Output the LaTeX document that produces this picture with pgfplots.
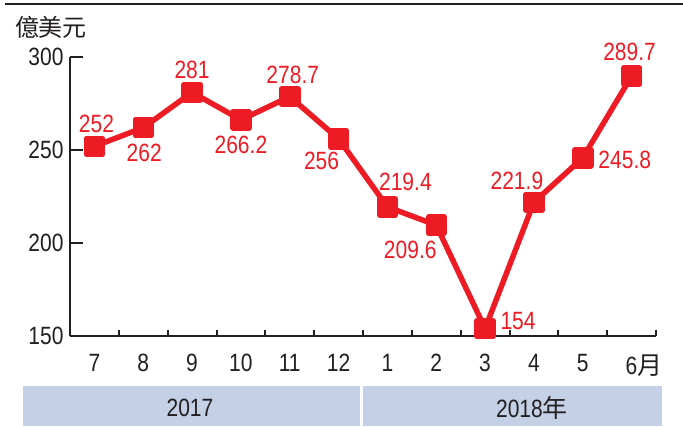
\documentclass[border=0pt]{standalone}
\usepackage{pgfplots}
\pgfplotsset{compat=1.18}
\usepackage{pgfplotstable}
\usepackage{fontspec}
\setmainfont{Liberation Sans}[FakeStretch=0.84]
\newfontfamily\cjk{Noto Sans CJK TC}
\definecolor{lred}{HTML}{ED1C24}
\definecolor{axc}{HTML}{231F20}
\definecolor{band}{HTML}{C3D0E6}
\pgfplotstableread{
x y dx dy lbl
0 252 2 22 252
1 262 1 -25 262
2 281 0 22 281
3 266.2 0 -25 266.2
4 278.7 3 22 278.7
5 256 -17 -22 256
6 219.4 18 25 219.4
7 209.6 -26 -25 209.6
8 154 33 7.5 154
9 221.9 -17 21 221.9
10 245.8 42 -2 245.8
11 289.7 -2 24 289.7
}\data
\begin{document}
\begin{tikzpicture}
\useasboundingbox (0,0) rectangle (683pt,426pt);
\fill[band] (23pt,0) rectangle (360pt,40pt);
\fill[band] (363pt,0) rectangle (662pt,40pt);
\node[font=\fontsize{25}{28}\selectfont, text=axc] at (190pt,18pt) {2017};
\node[font=\fontsize{25}{28}\selectfont, text=axc] at (532pt,18pt) {2018{\cjk 年}};
\draw[axc, line width=1.5pt] (5pt,422pt) -- (683pt,422pt);
\node[font={\cjk\fontsize{24}{26}\selectfont}, text=axc] at (51pt,399pt) {億美元};
\begin{axis}[
  at={(70pt,90pt)}, anchor=south west,
  scale only axis, width=586pt, height=279pt,
  xmin=-0.5, xmax=11.5, ymin=150, ymax=300,
  axis x line=bottom, axis y line=left,
  axis line style={-, line width=2.5pt, axc},
  clip=false,
  tick align=inside,
  xtick={0,...,11},
  xticklabels={7,8,9,10,11,12,1,2,3,4,5,6\rlap{\cjk 月}},
  minor xtick={0.5,1.5,...,11.5},
  ytick={150,200,250,300},
  major tick length=13pt,
  minor tick length=6pt,
  tick style={axc, line width=2pt},
  every major x tick/.append style={draw=none},
  /pgf/number format/assume math mode=true,
  every tick label/.append style={font=\fontsize{25}{28}\selectfont, text=axc},
  xticklabel style={yshift=-15pt},
  yticklabel style={xshift=-3pt},
]
\addplot[lred, line width=5.5pt, line join=round,
  mark=square*, mark size=8pt, mark options={solid, fill=lred, draw=none},
  point meta=explicit symbolic,
  visualization depends on={\thisrow{dx} \as \dx},
  visualization depends on={\thisrow{dy} \as \dy},
  nodes near coords,
  nodes near coords style={font=\fontsize{25}{28}\selectfont, text=lred, anchor=center, xshift=\dx pt, yshift=\dy pt},
] table[x=x, y=y, meta=lbl] {\data};
\end{axis}
\end{tikzpicture}
\end{document}
